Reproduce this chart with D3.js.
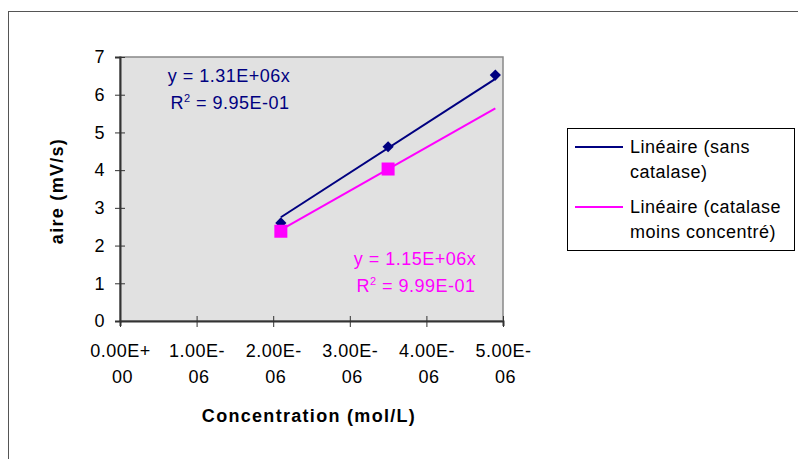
<!DOCTYPE html>
<html>
<head>
<meta charset="utf-8">
<script src="https://cdn.jsdelivr.net/npm/d3@7"></script>
<style>
  body { margin: 0; background: #fff; }
  svg { display: block; font-family: "Liberation Sans", Arial, sans-serif; }
</style>
</head>
<body>
<svg width="798" height="459"></svg>
<script>
// données
const xTicks = [0, 1e-6, 2e-6, 3e-6, 4e-6, 5e-6];
const xTickLabels = [["0.00E+", "00"], ["1.00E-", "06"], ["2.00E-", "06"], ["3.00E-", "06"], ["4.00E-", "06"], ["5.00E-", "06"]];
const yTicks = [0, 1, 2, 3, 4, 5, 6, 7];

// série sans catalase (losanges)
const sansX = [2.1e-6, 3.5e-6, 4.9e-6];
const sansY = [2.6, 4.62, 6.52];
// série catalase moins concentré (carrés)
const catX = [2.1e-6, 3.5e-6];
const catY = [2.38, 4.03];

// droites de tendance (passant par l'origine)
const slopes = [1.31e6, 1.15e6];
const trendRange = [2.1e-6, 4.9e-6];
const eqLabels = [["y = 1.31E+06x", "9.95E-01"], ["y = 1.15E+06x", "9.99E-01"]];
const legendLabels = [["Linéaire (sans", "catalase)"], ["Linéaire (catalase", "moins concentré)"]];
const colors = ["#000080", "#ff00ff"];

const FS = 18;
const FONT = "Liberation Sans, Arial, sans-serif";

const svg = d3.select("svg");

// cadre extérieur
svg.append("rect")
    .attr("x", 8.5).attr("y", 11.5)
    .attr("width", 800).attr("height", 460)
    .attr("fill", "none").attr("stroke", "#555").attr("stroke-width", 1);

const area = {left: 120, top: 57, right: 503, bottom: 321};

const scX = d3.scaleLinear().domain([0, 5e-6]).range([area.left, area.right]);
const scY = d3.scaleLinear().domain([0, 7]).range([area.bottom, area.top]);

// fond de la zone de tracé
svg.append("rect")
    .attr("x", area.left).attr("y", area.top)
    .attr("width", area.right - area.left).attr("height", area.bottom - area.top)
    .attr("fill", "#e1e1e1").attr("stroke", "#888").attr("stroke-width", 1.5);

// axe Y
const axisY = svg.append("g")
    .attr("transform", `translate(${area.left}, 0)`)
    .call(d3.axisLeft(scY).tickValues(yTicks).tickSize(5).tickFormat(d3.format("d")));
axisY.select(".domain").attr("stroke", "#333").attr("stroke-width", 2);
axisY.selectAll(".tick line").attr("x2", 5).attr("x1", -5).attr("stroke", "#333");
axisY.selectAll("text").attr("font-size", FS).attr("fill", "#000").attr("x", -15)
    .attr("font-family", FONT).attr("letter-spacing", 0.5);

// axe X
const axisX = svg.append("g")
    .attr("transform", `translate(0, ${area.bottom})`)
    .call(d3.axisBottom(scX).tickValues(xTicks).tickSize(5).tickFormat(""));
axisX.select(".domain").attr("stroke", "#333").attr("stroke-width", 2);
axisX.selectAll(".tick line").attr("y1", -5).attr("y2", 6).attr("stroke", "#333");
axisX.selectAll(".tick").each(function(d, i) {
    const t = d3.select(this).append("text")
        .attr("fill", "#000").attr("font-size", FS).attr("text-anchor", "middle")
        .attr("font-family", FONT).attr("letter-spacing", 0.5);
    t.append("tspan").attr("x", 0).attr("y", 36).text(xTickLabels[i][0]);
    t.append("tspan").attr("x", 2).attr("y", 62).text(xTickLabels[i][1]);
});

// titres des axes
svg.append("text")
    .attr("x", 309).attr("y", 422)
    .attr("text-anchor", "middle").attr("font-size", FS).attr("font-weight", "bold")
    .attr("letter-spacing", 1.3)
    .text("Concentration (mol/L)");
svg.append("text")
    .attr("transform", `translate(63, ${(area.top + area.bottom) / 2 + 2}) rotate(-90)`)
    .attr("text-anchor", "middle").attr("font-size", FS).attr("font-weight", "bold")
    .attr("letter-spacing", 1.3)
    .text("aire (mV/s)");

// droites de tendance
slopes.forEach((a, i) => {
    svg.append("line")
        .attr("x1", scX(trendRange[0])).attr("y1", scY(a * trendRange[0]))
        .attr("x2", scX(trendRange[1])).attr("y2", scY(a * trendRange[1]))
        .attr("stroke", colors[i]).attr("stroke-width", 2);
});

// points : losanges et carrés
const sansData = sansX.map((x, i) => ({x: x, y: sansY[i]}));
const catData = catX.map((x, i) => ({x: x, y: catY[i]}));

svg.selectAll(".diam")
    .data(sansData)
    .enter()
    .append("path")
    .attr("d", d3.symbol().type(d3.symbolDiamond2).size(80))
    .attr("transform", d => `translate(${scX(d.x)}, ${scY(d.y)})`)
    .attr("fill", colors[0]);

svg.selectAll(".sq")
    .data(catData)
    .enter()
    .append("rect")
    .attr("x", d => scX(d.x) - 6.5).attr("y", d => scY(d.y) - 6.5)
    .attr("width", 13).attr("height", 13)
    .attr("fill", colors[1]);

// équations
const eqPos = [[229, 82], [415, 265]];
eqLabels.forEach((lab, i) => {
    const g = svg.append("g").attr("fill", colors[i]).attr("font-size", FS)
        .attr("text-anchor", "middle").attr("letter-spacing", 0.5);
    g.append("text").attr("x", eqPos[i][0]).attr("y", eqPos[i][1]).text(lab[0]);
    const r = g.append("text").attr("x", eqPos[i][0] + 1).attr("y", eqPos[i][1] + 27);
    r.append("tspan").text("R");
    r.append("tspan").attr("font-size", 11).attr("dy", -7).text("2");
    r.append("tspan").attr("dy", 7).text(" = " + lab[1]);
});

// légende
const leg = svg.append("g");
leg.append("rect")
    .attr("x", 567.5).attr("y", 128.5).attr("width", 227).attr("height", 122)
    .attr("fill", "#fff").attr("stroke", "#000").attr("stroke-width", 1);
legendLabels.forEach((lab, i) => {
    const y0 = 147 + i * 60;
    leg.append("line")
        .attr("x1", 575).attr("x2", 623).attr("y1", y0).attr("y2", y0)
        .attr("stroke", colors[i]).attr("stroke-width", 2);
    const t = leg.append("text").attr("font-size", FS).attr("fill", "#000").attr("letter-spacing", 0.5);
    t.append("tspan").attr("x", 630).attr("y", y0 + 6).text(lab[0]);
    t.append("tspan").attr("x", 630).attr("y", y0 + 31).text(lab[1]);
});
</script>
</body>
</html>
